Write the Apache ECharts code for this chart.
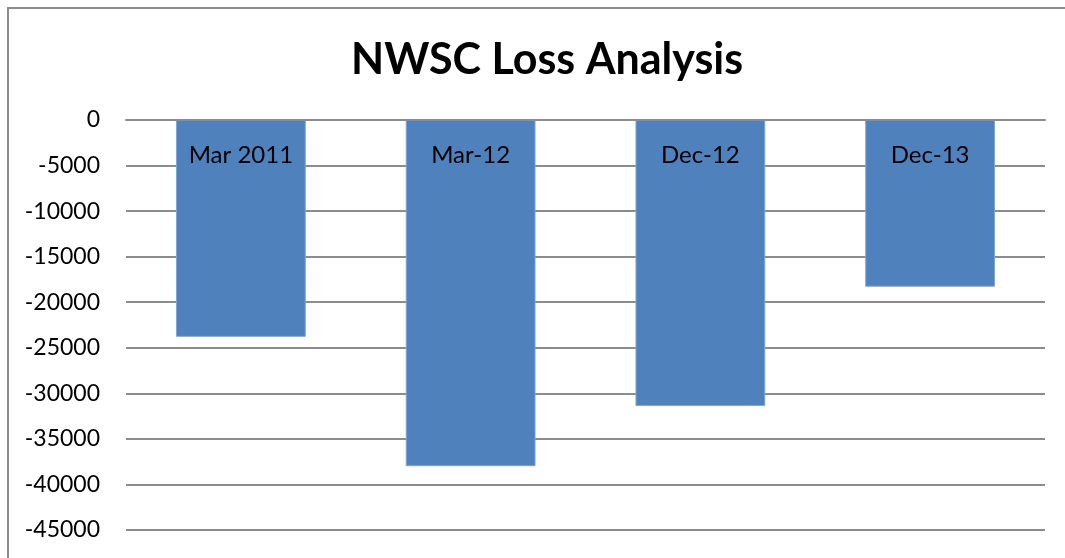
<!DOCTYPE html>
<html>
<head>
<meta charset="utf-8">
<script src="https://cdn.jsdelivr.net/npm/echarts@6/dist/echarts.min.js"></script>
<style>
  html, body { margin: 0; padding: 0; background: #fff; }
  #main { width: 1065px; height: 558px; }
</style>
</head>
<body>
<div id="main"></div>
<script>
// values
var periods = ["Mar 2011", "Mar-12", "Dec-12", "Dec-13"];
var losses = [-23800, -38000, -31400, -18300];

var chart = echarts.init(document.getElementById("main"));
chart.setOption({
  animation: false,
  textStyle: { fontFamily: "Lato" },
  graphic: [
    {
      type: "rect",
      shape: { x: 8, y: 8, width: 1200, height: 700 },
      style: { fill: "none", stroke: "#8c8c8c", lineWidth: 2 },
      silent: true
    }
  ],
  title: {
    text: "NWSC Loss Analysis",
    left: 346,
    top: 34,
    textStyle: { fontFamily: "Lato", fontWeight: "bold", fontSize: 43, color: "#000" }
  },
  grid: { left: 126, right: 20, top: 120, bottom: 28 },
  xAxis: {
    type: "category",
    position: "top",
    z: 10,
    data: periods,
    axisLine: { show: true, lineStyle: { color: "#8c8c8c", width: 2 } },
    axisTick: { show: false },
    axisLabel: {
      inside: true,
      margin: 23,
      color: "#000",
      fontSize: 24,
      fontFamily: "Lato"
    }
  },
  yAxis: {
    type: "value",
    min: -45000,
    max: 0,
    interval: 5000,
    axisLine: { show: false },
    axisTick: { show: false },
    axisLabel: {
      color: "#000",
      fontSize: 23,
      fontFamily: "Lato",
      margin: 26,
      formatter: function (v) { return String(v); }
    },
    splitLine: { lineStyle: { color: "#8c8c8c", width: 2 } }
  },
  series: [
    {
      type: "bar",
      data: losses,
      barWidth: "56.5%",
      z: 3,
      itemStyle: { color: "#4f81bd", borderColor: "#7fa6d6", borderWidth: 1 }
    }
  ]
});
</script>
</body>
</html>
